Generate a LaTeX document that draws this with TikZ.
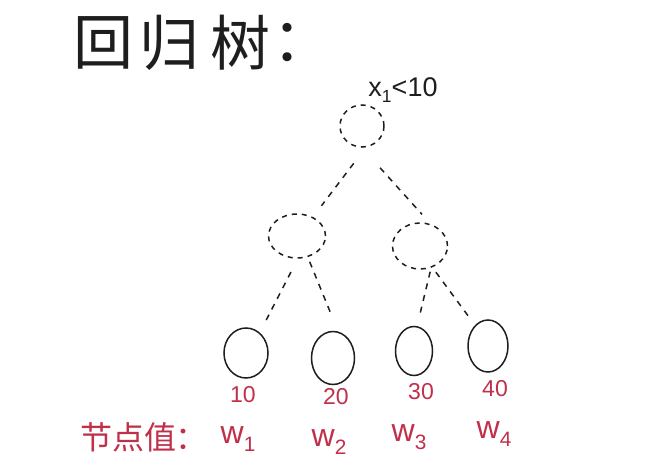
\documentclass[tikz,border=0pt]{standalone}
\usepackage{fontspec}
\setmainfont{Liberation Sans}
\newfontfamily\cjk{Noto Sans CJK SC}
\usetikzlibrary{shapes.geometric}
\definecolor{ink}{HTML}{1E1E1E}
\definecolor{redink}{HTML}{C0304A}
\newcommand{\lowsub}[1]{\raisebox{-0.45ex}{\fontsize{0.65em}{0.65em}\selectfont #1}}
\tikzset{
  inner/.style={ellipse, draw=ink, line width=1.5pt, dash pattern=on 5pt off 5pt, inner sep=0pt},
  leaf/.style={ellipse, draw=ink, line width=1.5pt, inner sep=0pt},
  edge/.style={draw=ink, line width=1.5pt, dash pattern=on 6pt off 6pt},
  val/.style={text=redink, font=\fontsize{23}{23}\selectfont, inner sep=0pt},
  wlab/.style={text=redink, font=\fontsize{32}{32}\selectfont, inner sep=0pt},
  titlechar/.style={text=ink, font=\cjk\fontsize{60}{60}\selectfont, inner sep=0pt},
}
\begin{document}
\begin{tikzpicture}[x=1pt,y=-1pt]
\useasboundingbox[fill=white] (0,0) rectangle (662,476);
\node[titlechar] (t1) at (103,43) {回};
\node[titlechar] (t2) at (169,43) {归};
\node[titlechar] (t3) at (240,43) {树};
\node[titlechar, anchor=west] (t4) at (272,43) {：};
\node[text=ink, font=\fontsize{27}{27}\selectfont, inner sep=0pt] (cond) at (403,90) {x\lowsub{1}<10};
\node[inner, minimum width=44pt, minimum height=42pt] (root) at (362,126) {};
\node[inner, minimum width=57pt, minimum height=44pt] (lm) at (297,236) {};
\node[inner, minimum width=55pt, minimum height=46pt] (rm) at (420,246) {};
\node[leaf, minimum width=44pt, minimum height=50pt] (l1) at (246,353) {};
\node[leaf, minimum width=43pt, minimum height=53pt] (l2) at (333,358) {};
\node[leaf, minimum width=37pt, minimum height=49pt] (l3) at (414,351) {};
\node[leaf, minimum width=40pt, minimum height=52pt] (l4) at (488,346) {};
\draw[edge, shorten <=20pt, shorten >=14pt] (root.-80) -- (lm.50);
\draw[edge, shorten <=27pt, shorten >=13pt] (root.-90) -- (rm.64);
\draw[edge, shorten <=15pt, shorten >=11pt] (lm.-88) -- (l1.56);
\draw[edge, shorten <=5pt, shorten >=18pt] (lm.-63) -- (l2.79);
\draw[edge, shorten <=4pt, shorten >=12pt] (rm.-63) -- (l3.83);
\draw[edge, shorten <=6pt, shorten >=10pt] (rm.-60) -- (l4.122);
\node[val] (v1) at (243,395) {10};
\node[val] (v2) at (336,397) {20};
\node[val] (v3) at (421,392) {30};
\node[val] (v4) at (495,389) {40};
\node[text=redink, font=\cjk\fontsize{32}{32}\selectfont, inner sep=0pt] (nv) at (144,437) {节点值：};
\node[wlab] (w1) at (238,439) {w\lowsub{1}};
\node[wlab] (w2) at (329,442) {w\lowsub{2}};
\node[wlab] (w3) at (409,437) {w\lowsub{3}};
\node[wlab] (w4) at (494,434) {w\lowsub{4}};
\end{tikzpicture}
\end{document}
